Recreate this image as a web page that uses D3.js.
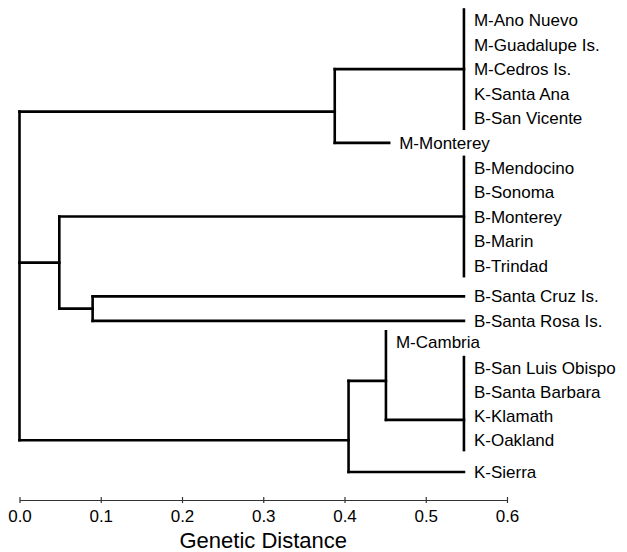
<!DOCTYPE html>
<html>
<head>
<meta charset="utf-8">
<script src="https://cdn.jsdelivr.net/npm/d3@7"></script>
<style>
  body { margin: 0; background: #fff; }
  svg { display: block; font-family: "Liberation Sans", Arial, Helvetica, sans-serif; }
</style>
</head>
<body>
<div id="vis"></div>
<script>
// tree as a flat table: id, parent, cumulative genetic distance, row (leaf order)
var nodeId = ["root", "upper", "polyA",
  "M-Ano Nuevo", "M-Guadalupe Is.", "M-Cedros Is.", "K-Santa Ana", "B-San Vicente",
  "M-Monterey",
  "middle", "polyB",
  "B-Mendocino", "B-Sonoma", "B-Monterey", "B-Marin", "B-Trindad",
  "islands", "B-Santa Cruz Is.", "B-Santa Rosa Is.",
  "lower", "cambria", "M-Cambria", "polyC",
  "B-San Luis Obispo", "B-Santa Barbara", "K-Klamath", "K-Oakland",
  "K-Sierra"];
var nodeParent = ["", "root", "upper",
  "polyA", "polyA", "polyA", "polyA", "polyA",
  "upper",
  "root", "middle",
  "polyB", "polyB", "polyB", "polyB", "polyB",
  "middle", "islands", "islands",
  "root", "lower", "cambria", "cambria",
  "polyC", "polyC", "polyC", "polyC",
  "lower"];
var nodeDist = [0, 0.388, 0.547,
  0.547, 0.547, 0.547, 0.547, 0.547,
  0.455,
  0.049, 0.547,
  0.547, 0.547, 0.547, 0.547, 0.547,
  0.090, 0.547, 0.547,
  0.405, 0.451, 0.451, 0.547,
  0.547, 0.547, 0.547, 0.547,
  0.547];
// row of each leaf; a few internal nodes are drawn off-centre in the original
var nodeRow = [null, 3.73, null,
  0, 1, 2, 3, 4,
  5,
  null, null,
  6, 7, 8, 9, 10,
  null, 11.25, 12.25,
  17.11, null, 13.1, 16.28,
  14.15, 15.12, 16.1, 17.08,
  18.4];

var axisTicks = [0, 0.1, 0.2, 0.3, 0.4, 0.5, 0.6];

var width = 627, height = 552;

var svg = d3.select("#vis").append("svg")
  .attr("width", width)
  .attr("height", height);

var x = d3.scaleLinear().domain([0, 0.6]).range([19.5, 507]);
var y = d3.scaleLinear().domain([0, 18.4]).range([20, 472]);

var table = nodeId.map(function(d, i) {
  return {id: d, parent: nodeParent[i], dist: nodeDist[i], row: nodeRow[i]};
});

var root = d3.stratify()
  .id(function(d) { return d.id; })
  .parentId(function(d) { return d.parent || null; })(table);

// y for internal nodes: midpoint of first and last child unless given
root.eachAfter(function(n) {
  if (n.data.row != null) n.y = y(n.data.row);
  else n.y = (n.children[0].y + n.children[n.children.length - 1].y) / 2;
  n.x = x(n.data.dist);
});

var pad = 10.5;
var g = svg.append("g")
  .attr("stroke", "#000")
  .attr("stroke-width", 2.6)
  .attr("stroke-linecap", "square")
  .attr("fill", "none");

// vertical bars
root.descendants().filter(function(n) { return n.children; }).forEach(function(n) {
  var lo = d3.min(n.children, function(c) { return c.children || c.data.dist > n.data.dist ? c.y : c.y - pad; });
  var hi = d3.max(n.children, function(c) { return c.children || c.data.dist > n.data.dist ? c.y : c.y + pad; });
  g.append("line")
    .attr("x1", n.x).attr("x2", n.x)
    .attr("y1", lo).attr("y2", hi);
});

// horizontal branches
root.descendants().filter(function(n) { return n.parent && n.data.dist > n.parent.data.dist; }).forEach(function(n) {
  g.append("line")
    .attr("x1", n.parent.x).attr("x2", n.x)
    .attr("y1", n.y).attr("y2", n.y);
});

// leaf labels
svg.append("g").selectAll("text")
  .data(root.leaves())
  .enter().append("text")
  .attr("x", function(d) { return d.x + 10; })
  .attr("y", function(d) { return d.y; })
  .attr("dy", "0.36em")
  .style("font-size", "17px")
  .text(function(d) { return d.data.id; });

// axis
var axis = svg.append("g")
  .attr("transform", "translate(0,500)")
  .call(d3.axisBottom(x).tickValues(axisTicks).tickFormat(d3.format(".1f")).tickSizeOuter(0));
axis.select(".domain").attr("stroke", "#333").attr("stroke-width", 1.2);
axis.selectAll(".tick line").attr("y1", -3).attr("y2", 3).attr("stroke", "#333").attr("stroke-width", 1.2);
axis.selectAll(".tick text")
  .attr("y", 10)
  .attr("fill", "#000")
  .style("font-size", "17px")
  .style("font-family", "\"Liberation Sans\", Arial, sans-serif");

svg.append("text")
  .attr("x", (x(0) + x(0.6)) / 2)
  .attr("y", 548)
  .attr("text-anchor", "middle")
  .style("font-size", "22px")
  .text("Genetic Distance");
</script>
</body>
</html>
